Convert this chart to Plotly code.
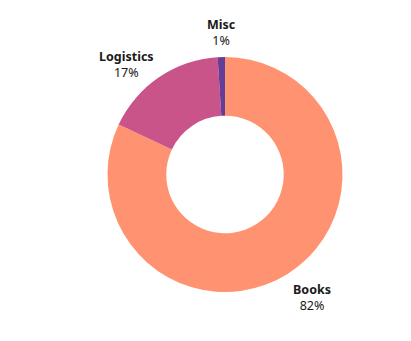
import math
import plotly.graph_objects as go

labels = ["Books", "Logistics", "Misc"]
values = [82, 17, 1]
colors = ["#FF9270", "#C85489", "#643D98"]

W, H = 411, 341
CX, CY, R = 225, 174.5, 117.5   # pie centre and outer radius in pixels
GAP = 6
FONT_SIZE = 12.5
LABEL_H = 2 * FONT_SIZE * 1.3   # two text lines
BOX_H = LABEL_H + 5             # rendered annotation box height

fig = go.Figure(go.Pie(
    labels=labels,
    values=values,
    hole=0.5,
    sort=False,
    direction="clockwise",
    rotation=0,
    marker=dict(colors=colors, line=dict(width=0)),
    textinfo="none",
    hoverinfo="label+percent",
    showlegend=False,
    domain=dict(x=[(CX - R) / W, (CX + R) / W],
                y=[1 - (CY + R) / H, 1 - (CY - R) / H]),
))

total = sum(values)
items = []
cum = 0.0
for lab, v in zip(labels, values):
    mid = (cum + v / 2) / total * 2 * math.pi
    cum += v
    ux, uy = math.sin(mid), math.cos(mid)   # uy positive = upwards
    px = CX + (R + GAP) * ux
    py = CY - (R + GAP) * uy
    # top edge of label box (pixels, downward)
    top = py - BOX_H if uy > 0 else py
    items.append(dict(lab=lab, v=v, ux=ux, uy=uy, px=px, top=top))

# simple overlap avoidance for labels on the same side
for side in (lambda it: it["ux"] <= 0, lambda it: it["ux"] > 0):
    group = sorted([it for it in items if side(it)], key=lambda it: it["top"])
    for a, b in zip(group, group[1:]):
        if b["top"] < a["top"] + LABEL_H:
            b["top"] = a["top"] + LABEL_H

annotations = []
for it in items:
    if it["ux"] > 0.2:
        xa = "left"
    elif it["ux"] < -0.2:
        xa = "right"
    else:
        xa = "center"
    pct = round(it["v"] / total * 100)
    annotations.append(dict(
        x=it["px"] / W, y=1 - it["top"] / H, xref="paper", yref="paper",
        xanchor=xa, yanchor="top", showarrow=False, align="center",
        text=f"<b>{it['lab']}</b><br>{pct}%",
        font=dict(family="Noto Sans", size=FONT_SIZE, color="#1a1a1a"),
    ))

fig.update_layout(
    width=W, height=H,
    margin=dict(l=0, r=0, t=0, b=0),
    paper_bgcolor="white",
    plot_bgcolor="white",
    annotations=annotations,
)
fig.write_html("out.html")
